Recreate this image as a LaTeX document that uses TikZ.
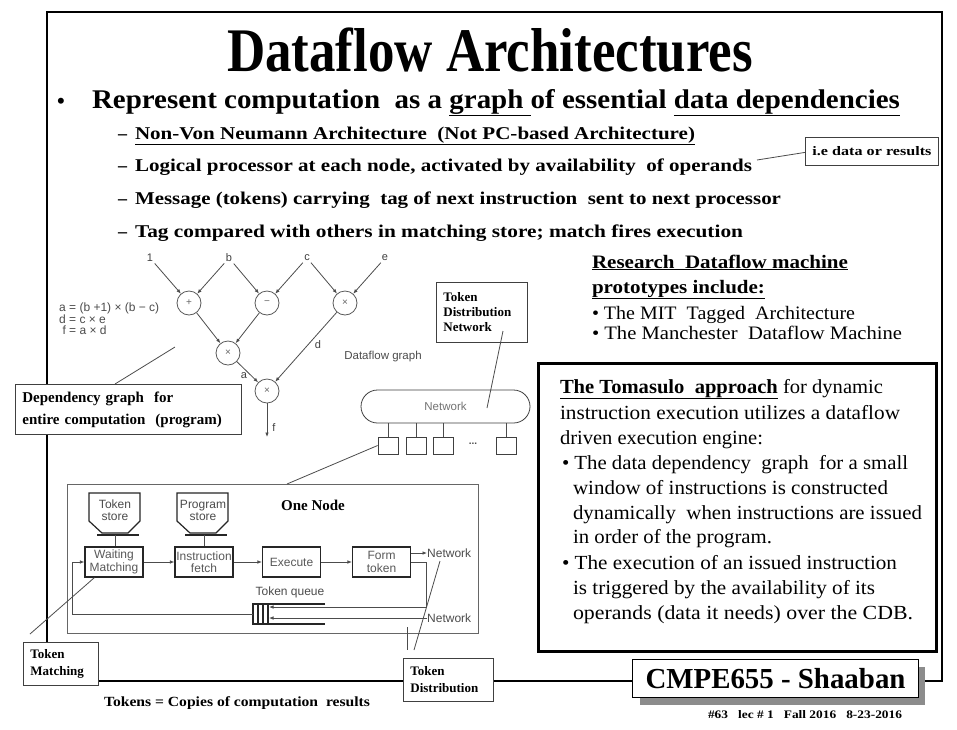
\documentclass[tikz,border=0pt]{standalone}
\usepackage{graphicx}
\usepackage{fontspec}
\setmainfont{Liberation Serif}
\newfontfamily\arialf{Liberation Sans}
\usetikzlibrary{arrows.meta,calc}
\newcommand{\fw}[3]{\resizebox{#1pt}{\height}{\fontsize{#2pt}{#2pt}\selectfont #3}}
\newcommand{\mysans}[1]{\arialf\fontsize{#1pt}{#1pt}\selectfont}
\begin{document}
\begin{tikzpicture}[x=1pt,y=-1pt,
  txt/.style={inner sep=0pt, outer sep=0pt},
  gline/.style={draw=black!70, line width=0.8pt},
  garrow/.style={draw=black!70, line width=0.8pt, -{Latex[length=4.5pt,width=3.6pt]}},
  op/.style={circle, draw=black!65, line width=0.8pt, minimum size=24pt, inner sep=0pt, font=\mysans{10}, text=black!60},
  inlbl/.style={inner sep=1.5pt, font=\mysans{11}, text=black!75},
  box/.style={draw=black!85, line width=1.2pt, minimum width=58pt, minimum height=30pt, inner sep=0pt, font=\arialf\fontsize{12pt}{12.5pt}\selectfont, text=black!65, align=center},
  callout/.style={draw=black!75, fill=white, line width=0.8pt, anchor=north west, align=left, inner xsep=8pt, inner ysep=0pt},
  pe/.style={draw=black!75, line width=0.8pt, minimum width=20pt, minimum height=17pt, inner sep=0pt},
  gtext/.style={inner sep=1pt, text=black!70}
]
\fill[white] (0,0) rectangle (957,729);
\useasboundingbox (0,0) rectangle (957,729);

% slide frame
\draw[line width=2pt] (47,12) rectangle (942,681);

% title and bullets
\node[txt, anchor=base] (title) at (490,71) {\fw{526}{62}{\bfseries Dataflow Architectures}};
\node[txt, anchor=base] (bul1) at (61,108) {\fontsize{22pt}{22pt}\selectfont\bfseries •};
\node[txt, anchor=base west] (l1) at (92,108) {\fw{808}{27}{\bfseries Represent computation\ \ as a \underline{graph }of essential \underline{data dependencies}}};

\node[txt, anchor=base west] (d1) at (118,139) {\fontsize{18pt}{18pt}\selectfont\bfseries –};
\node[txt, anchor=base west] (s1) at (135,139) {\fw{560}{18}{\bfseries\underline{Non-Von Neumann Architecture\ \ (Not PC-based Architecture)}}};
\node[txt, anchor=base west] (d2) at (118,171) {\fontsize{18pt}{18pt}\selectfont\bfseries –};
\node[txt, anchor=base west] (s2) at (135,171) {\fw{617}{18}{\bfseries Logical processor\ at each node, activated by availability\ \ of operands}};
\node[txt, anchor=base west] (d3) at (118,204) {\fontsize{18pt}{18pt}\selectfont\bfseries –};
\node[txt, anchor=base west] (s3) at (135,204) {\fw{646}{18}{\bfseries Message (tokens) carrying\ \ tag of next instruction\ \ sent to next processor}};
\node[txt, anchor=base west] (d4) at (118,237) {\fontsize{18pt}{18pt}\selectfont\bfseries –};
\node[txt, anchor=base west] (s4) at (135,237) {\fw{608}{18}{\bfseries Tag compared with others in matching store; match fires\ execution}};

% i.e. callout
\node[callout, minimum width=133pt, minimum height=28pt, text width=119pt, inner xsep=7pt] (ie) at (805,137) {\fw{119}{13}{\bfseries i.e data or results}};
\coordinate (ieA) at (757,160);
\draw[gline] (ieA) -- ($(ie.west)+(0,1)$);

% research text
\node[txt, anchor=base west] (r1) at (592,268) {\fw{256}{19}{\bfseries\underline{Research\ \ Dataflow machine}}};
\node[txt, anchor=base west] (r2) at (592,293) {\fw{173}{19}{\bfseries\underline{prototypes include:}}};
\node[txt, anchor=base west] (r3) at (592,319) {\fw{263}{19}{• The MIT\ \ Tagged\ \ Architecture}};
\node[txt, anchor=base west] (r4) at (592,339) {\fw{310}{19}{• The Manchester\ \ Dataflow Machine}};

% Tomasulo box
\node[draw, line width=3pt, minimum width=398pt, minimum height=288pt, anchor=north west, inner sep=0pt] (tom) at (537,362) {};
\node[txt, anchor=base west] (t1) at (560,393) {\fw{323}{20}{\underline{\bfseries The Tomasulo\ \ approach} for dynamic}};
\node[txt, anchor=base west] (t2) at (560,419) {\fw{340}{20}{instruction execution utilizes a dataflow}};
\node[txt, anchor=base west] (t3) at (560,444) {\fw{203}{20}{driven execution engine:}};
\node[txt, anchor=base west] (t4) at (562,469) {\fw{346}{20}{• The data dependency\ \ graph\ \ for a small}};
\node[txt, anchor=base west] (t5) at (573,494) {\fw{315}{20}{window of instructions is constructed}};
\node[txt, anchor=base west] (t6) at (573,519) {\fw{349}{20}{dynamically\ \ when instructions are issued}};
\node[txt, anchor=base west] (t7) at (573,543) {\fw{199}{20}{in order of the program.}};
\node[txt, anchor=base west] (t8) at (562,569) {\fw{335}{20}{• The execution of an issued instruction}};
\node[txt, anchor=base west] (t9) at (573,594) {\fw{302}{20}{is triggered\ by the availability\ of its}};
\node[txt, anchor=base west] (t10) at (573,619) {\fw{340}{20}{operands (data it needs) over the CDB.}};

% dataflow graph
\node[inlbl] (i1) at (150,258) {1};
\node[inlbl] (ib) at (229,258) {b};
\node[inlbl] (ic) at (307,258) {c};
\node[inlbl] (ie2) at (385,258) {e};
\node[op] (plus) at (189,303) {+};
\node[op] (minus) at (267,303) {−};
\node[op] (times1) at (345,303) {×};
\node[op] (times2) at (228,353) {×};
\node[op] (times3) at (267,391) {×};
\coordinate (fout) at (267,437);
\draw[garrow] (i1) -- (plus);
\draw[garrow] (ib) -- (plus);
\draw[garrow] (ib) -- (minus);
\draw[garrow] (ic) -- (minus);
\draw[garrow] (ic) -- (times1);
\draw[garrow] (ie2) -- (times1);
\draw[garrow] (plus) -- (times2);
\draw[garrow] (minus) -- (times2);
\draw[garrow] (times2) -- (times3);
\draw[garrow] (times1) -- (times3);
\draw[garrow] (times3) -- (fout);
\node[inlbl] (la) at (244,376) {a};
\node[inlbl] (ld) at (318,345) {d};
\node[inlbl] (lf) at (274,428) {f};
\node[gtext, anchor=west, align=left, font=\arialf\fontsize{12pt}{11.5pt}\selectfont] (eqs) at (58,319) {a = (b +1) × (b − c)\\d = c × e\\\ f = a × d};
\node[gtext, font=\mysans{11.5}] (dfg) at (383,357) {Dataflow graph};

% dependency callout
\node[callout, minimum width=226pt, minimum height=50pt, text width=212pt, inner xsep=7pt, font=\fontsize{15pt}{22pt}\selectfont\bfseries] (dep) at (15,384) {Dependency graph\ \ for\\entire computation\ \ (program)};
\coordinate (depA) at (175,347);
\draw[gline] ($(dep.north west)+(100,0)$) -- (depA);

% network
\node[draw=black!75, line width=0.8pt, rounded corners=16.5pt, minimum width=169pt, minimum height=33pt, font=\mysans{11.5}, text=black!55] (net) at (445.5,406.5) {Network};
\node[pe] (pe1) at (388,445.5) {};
\node[pe] (pe2) at (416.5,445.5) {};
\node[pe] (pe3) at (443,445.5) {};
\node[pe] (pe4) at (506,445.5) {};
\node[gtext, font=\mysans{10}\bfseries] (dots) at (473,444) {...};
\foreach \p in {pe1,pe2,pe3,pe4} \draw[gline] (\p.north) -- (\p.north |- net.south);

% token distribution network callout
\node[callout, minimum width=91pt, minimum height=60pt, text width=77pt, inner xsep=7pt, font=\fontsize{13pt}{15pt}\selectfont\bfseries] (tdn) at (436,282) {Token\\Distribution\\Network};
\coordinate (tdnA) at (503,331);
\coordinate (tdnB) at (487,408);
\draw[gline] (tdnA) -- (tdnB);

% one node
\node[draw=black!60, line width=0.8pt, minimum width=411pt, minimum height=149pt, anchor=north west, inner sep=0pt] (onenode) at (67,484) {};
\coordinate (oneA) at (287,484);
\draw[gline] (pe1.west) -- (oneA);
\node[txt] (onelbl) at (313,505) {\fontsize{15pt}{15pt}\selectfont\bfseries One Node};

\node[box] (wm) at (114,562) {Waiting\\Matching};
\node[box] (ifb) at (204,562) {Instruction\\fetch};
\node[box] (ex) at (291.5,562) {Execute};
\node[box] (ft) at (381.5,562) {Form\\token};

% stores
\draw[draw=black!85, line width=1.2pt] (89,493) -- (140,493) -- (140,521) -- (128,533) -- (102,533) -- (89,521) -- cycle;
\draw[line width=1.8pt, black!85] (97,535) -- (139,535);
\coordinate (tsb) at (115,535);
\draw[gline] (tsb) -- (tsb |- wm.north);
\node[gtext, font=\arialf\fontsize{12pt}{12pt}\selectfont, align=center] (tstxt) at (115,510) {Token\\store};

\draw[draw=black!85, line width=1.2pt] (177,493) -- (228,493) -- (228,521) -- (216,533) -- (190,533) -- (177,521) -- cycle;
\draw[line width=1.8pt, black!85] (185,535) -- (227,535);
\coordinate (psb) at (204,535);
\draw[gline] (psb) -- (psb |- ifb.north);
\node[gtext, font=\arialf\fontsize{12pt}{12pt}\selectfont, align=center] (pstxt) at (203,510) {Program\\store};

\draw[garrow] (wm) -- (ifb);
\draw[garrow] (ifb) -- (ex);
\draw[garrow] (ex) -- (ft);

% token queue
\draw[line width=1.2pt, black!85] (325,604) -- (253,604) -- (253,624) -- (325,624);
\draw[line width=1.2pt, black!85] (258,604) -- (258,624) (263,604) -- (263,624) (268,604) -- (268,624);
\node[gtext, font=\mysans{12}] (tq) at (290,592) {Token queue};
\coordinate (q0) at (253,614);
\coordinate (q1) at (269,607);
\coordinate (q2) at (269,618);

\node[gtext, anchor=west, font=\mysans{12}, inner sep=0pt] (net1) at (427,553) {Network};
\node[gtext, anchor=west, font=\mysans{12}, inner sep=0pt] (net2) at (427,618) {Network};
\draw[garrow] (ft.east |- net1) -- (net1.west);
\draw[gline, -{Latex[length=4.5pt,width=3.6pt]}] (ft.east) -- ++(15,0) |- (q1);
\draw[garrow] (net2.west) -- (q2);
\draw[garrow] (q0) -| ($(wm.west)+(-12,0)$) -- (wm.west);

% token matching callout
\node[callout, minimum width=75pt, minimum height=43pt, text width=61pt, inner xsep=7pt, font=\fontsize{13pt}{17pt}\selectfont\bfseries] (tm) at (23,642) {Token\\Matching};
\coordinate (tmA) at (30,634);
\draw[gline] (tmA) -- ($(wm.south west)+(10,0)$);

% token distribution callout
\node[callout, minimum width=90pt, minimum height=43pt, text width=76pt, inner xsep=7pt, font=\fontsize{13pt}{17pt}\selectfont\bfseries] (tdist) at (403,658) {Token\\Distribution};
\coordinate (tdA) at (414,650);
\coordinate (tdB) at (440,561);
\draw[gline] (tdA) -- (tdB);
\coordinate (tdC) at (407,627);
\coordinate (tdD) at (407,650);
\draw[gline] (tdC) -- (tdD);

% bottom text
\node[txt, anchor=base west] (tokens) at (104,706) {\fw{266}{14}{\bfseries Tokens = Copies of computation\ \ results}};

% CMPE box
\node[fill=black!45, minimum width=285pt, minimum height=38pt, anchor=north west, inner sep=0pt] (cmpesh) at (640,667) {};
\node[draw, fill=white, line width=1pt, minimum width=286pt, minimum height=38pt, anchor=north west, inner sep=0pt] (cmpe) at (632,659) {\fw{260}{29}{\bfseries CMPE655 - Shaaban}};
\node[txt, anchor=base] (foot) at (805,718) {\fw{194}{11.5}{\bfseries \#63\ \ \ lec \# 1\ \ \ Fall 2016\ \ \ 8-23-2016}};
\end{tikzpicture}
\end{document}
